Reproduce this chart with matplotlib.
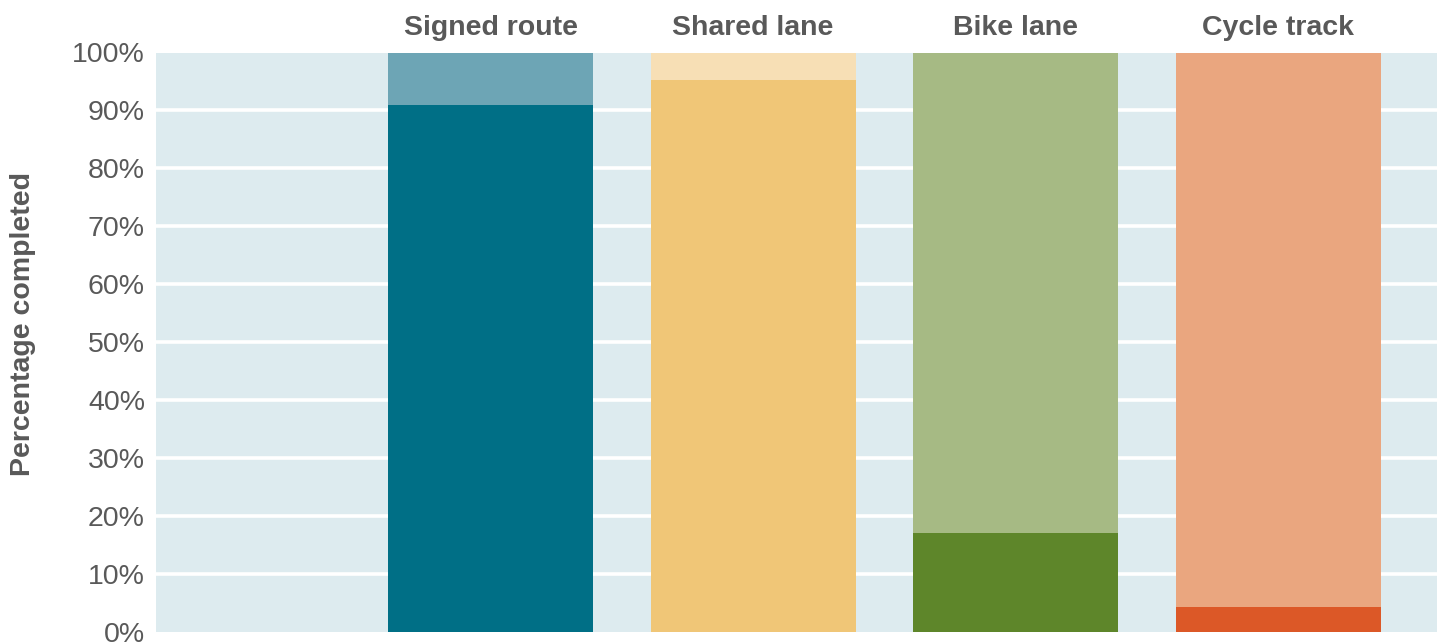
import matplotlib
matplotlib.use("Agg")
import matplotlib.pyplot as plt
from matplotlib.ticker import FuncFormatter

plt.rcParams['font.family'] = ['Liberation Sans', 'DejaVu Sans']

categories = ["Signed route", "Shared lane", "Bike lane", "Cycle track"]
completed = [91.0, 95.2, 17.0, 4.3]
total = [100, 100, 100, 100]
dark_colors = ["#006F86", "#F0C677", "#5E862A", "#DC5827"]
light_colors = ["#6DA5B5", "#F7DFB5", "#A6BA84", "#EAA67F"]
yticks = [0, 10, 20, 30, 40, 50, 60, 70, 80, 90, 100]

fig = plt.figure(figsize=(14.44, 6.44), dpi=100)
ax = fig.add_axes([156/1444, (644-632)/644, (1437-156)/1444, (632-52.5)/644])
ax.set_facecolor("#DDEBEF")

positions = list(range(1, len(categories) + 1))
remaining = [t - c for t, c in zip(total, completed)]

ax.hlines(yticks[1:-1], -1, 6, colors="white", linewidth=2.6, zorder=1)
ax.bar(positions, completed, width=0.78, color=dark_colors, zorder=2, linewidth=0)
ax.bar(positions, remaining, bottom=completed, width=0.78, color=light_colors, zorder=2, linewidth=0)

ax.set_xlim(-0.275, 4.605)
ax.set_ylim(0, 100)
ax.set_yticks(yticks)
ax.yaxis.set_major_formatter(FuncFormatter(lambda v, p: f"{int(v)}%"))
ax.tick_params(axis="y", length=0, pad=8, labelsize=20.5, labelcolor="#595959")

ax.set_xticks(positions)
ax.set_xticklabels(categories, fontweight="bold")
ax.xaxis.tick_top()
ax.tick_params(axis="x", length=0, pad=8, labelsize=20.5, labelcolor="#595959")

for s in ax.spines.values():
    s.set_visible(False)

ax.set_ylabel("Percentage completed", fontsize=20.5, fontweight="bold", color="#595959")
ax.yaxis.set_label_coords(-0.094, 0.531)

fig.savefig("out.png", dpi=100)
